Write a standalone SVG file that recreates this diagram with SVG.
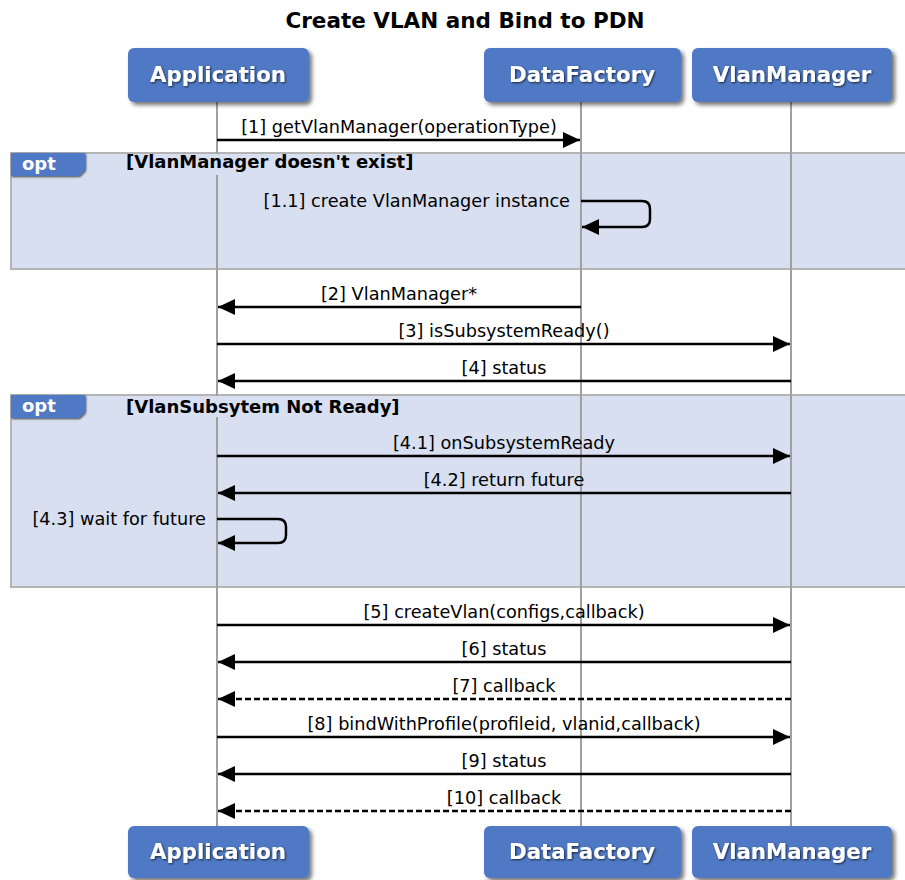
<svg xmlns="http://www.w3.org/2000/svg" width="905" height="880" viewBox="0 0 905 880">
<defs>
<filter id="sh" x="-10%" y="-20%" width="130%" height="150%">
<feDropShadow dx="3" dy="3" stdDeviation="2" flood-color="#000" flood-opacity="0.55"/>
</filter>
<filter id="tsh" x="-10%" y="-30%" width="130%" height="160%">
<feDropShadow dx="1" dy="1" stdDeviation="1" flood-color="#000" flood-opacity="0.7"/>
</filter>
<marker id="ah" markerWidth="18" markerHeight="16" refX="17" refY="8" orient="auto" markerUnits="userSpaceOnUse">
<path d="M0,0 L17,8 L0,16 Z" fill="#000"/>
</marker>
<style>
.title{font-family:"DejaVu Sans",sans-serif;font-weight:bold;font-size:21.5px;fill:#000}
.pbox{fill:#4F79C4;filter:url(#sh)}
.ptxt{font-family:"DejaVu Sans",sans-serif;font-weight:bold;font-size:21.3px;fill:#fff;text-anchor:middle;filter:url(#tsh)}
.life{stroke:#a0a0a0;stroke-width:2;fill:none}
.frame{fill:#D7DFF1;stroke:#b4b4b4;stroke-width:2}
.tab{fill:#4F79C4;filter:url(#tsh)}
.tabtxt{font-family:"DejaVu Sans",sans-serif;font-weight:bold;font-size:18px;fill:#fff}
.guard{font-family:"DejaVu Sans",sans-serif;font-weight:bold;font-size:18px;fill:#000}
.msg{stroke:#000;stroke-width:2.5;fill:none;marker-end:url(#ah)}
.dash{stroke-dasharray:6,3}
.lbl{font-family:"DejaVu Sans",sans-serif;font-size:17.7px;fill:#000;text-anchor:middle}
.lblr{font-family:"DejaVu Sans",sans-serif;font-size:17.7px;fill:#000;text-anchor:end}
</style>
</defs>
<rect width="905" height="880" fill="#fff"/>
<text class="title" x="465" y="28" text-anchor="middle">Create VLAN and Bind to PDN</text>

<g id="frames">
<g id="opt1">
<rect class="frame" x="11" y="153" width="905" height="116"/>
</g>
<g id="opt2">
<rect class="frame" x="11" y="395" width="905" height="192"/>
</g>
</g>

<g id="lifelines">
<line class="life" x1="217" y1="102" x2="217" y2="826"/>
<line class="life" x1="581" y1="102" x2="581" y2="826"/>
<line class="life" x1="791" y1="102" x2="791" y2="826"/>
</g>

<g id="frame-labels">
<rect x="88" y="154" width="340" height="21" fill="#D7DFF1"/>
<path class="tab" d="M11,153 H85 V170 L79,176 H11 Z"/>
<text class="tabtxt" x="22" y="170">opt</text>
<text class="guard" x="126" y="168">[VlanManager doesn't exist]</text>
<rect x="88" y="396" width="320" height="21" fill="#D7DFF1"/>
<path class="tab" d="M11,395 H85 V412 L79,418 H11 Z"/>
<text class="tabtxt" x="22" y="412">opt</text>
<text class="guard" x="126" y="413">[VlanSubsytem Not Ready]</text>
</g>

<g id="Application">
<rect class="pbox" x="128" y="48" width="181" height="54" rx="6"/>
<text class="ptxt" x="218" y="82">Application</text>
<rect class="pbox" x="128" y="826" width="181" height="52" rx="6"/>
<text class="ptxt" x="218" y="859">Application</text>
</g>
<g id="DataFactory">
<rect class="pbox" x="484" y="48" width="197" height="54" rx="6"/>
<text class="ptxt" x="582" y="82">DataFactory</text>
<rect class="pbox" x="484" y="826" width="197" height="52" rx="6"/>
<text class="ptxt" x="582" y="859">DataFactory</text>
</g>
<g id="VlanManager">
<rect class="pbox" x="692" y="48" width="200" height="54" rx="6"/>
<text class="ptxt" x="792" y="82">VlanManager</text>
<rect class="pbox" x="692" y="826" width="200" height="52" rx="6"/>
<text class="ptxt" x="792" y="859">VlanManager</text>
</g>

<g id="connectors">
<line class="msg" x1="217" y1="140" x2="580" y2="140"/>
<text class="lbl" x="399" y="133">[1] getVlanManager(operationType)</text>

<path class="msg" d="M581,201 H642 Q650,201 650,209 V219 Q650,227 642,227 H582"/>
<text class="lblr" x="570" y="207">[1.1] create VlanManager instance</text>

<line class="msg" x1="581" y1="307" x2="218" y2="307"/>
<text class="lbl" x="399" y="300">[2] VlanManager*</text>

<line class="msg" x1="217" y1="344" x2="790" y2="344"/>
<text class="lbl" x="504" y="337">[3] isSubsystemReady()</text>

<line class="msg" x1="791" y1="381" x2="218" y2="381"/>
<text class="lbl" x="504" y="374">[4] status</text>

<line class="msg" x1="217" y1="456" x2="790" y2="456"/>
<text class="lbl" x="504" y="449">[4.1] onSubsystemReady</text>

<line class="msg" x1="791" y1="493" x2="218" y2="493"/>
<text class="lbl" x="504" y="486">[4.2] return future</text>

<path class="msg" d="M217,519 H278 Q286,519 286,527 V535 Q286,543 278,543 H218"/>
<text class="lblr" x="206" y="525">[4.3] wait for future</text>

<line class="msg" x1="217" y1="625" x2="790" y2="625"/>
<text class="lbl" x="504" y="618">[5] createVlan(configs,callback)</text>

<line class="msg" x1="791" y1="662" x2="218" y2="662"/>
<text class="lbl" x="504" y="655">[6] status</text>

<line class="msg dash" x1="791" y1="699" x2="218" y2="699"/>
<text class="lbl" x="504" y="692">[7] callback</text>

<line class="msg" x1="217" y1="737" x2="790" y2="737"/>
<text class="lbl" x="504" y="730">[8] bindWithProfile(profileid, vlanid,callback)</text>

<line class="msg" x1="791" y1="774" x2="218" y2="774"/>
<text class="lbl" x="504" y="767">[9] status</text>

<line class="msg dash" x1="791" y1="811" x2="218" y2="811"/>
<text class="lbl" x="504" y="804">[10] callback</text>
</g>
</svg>
